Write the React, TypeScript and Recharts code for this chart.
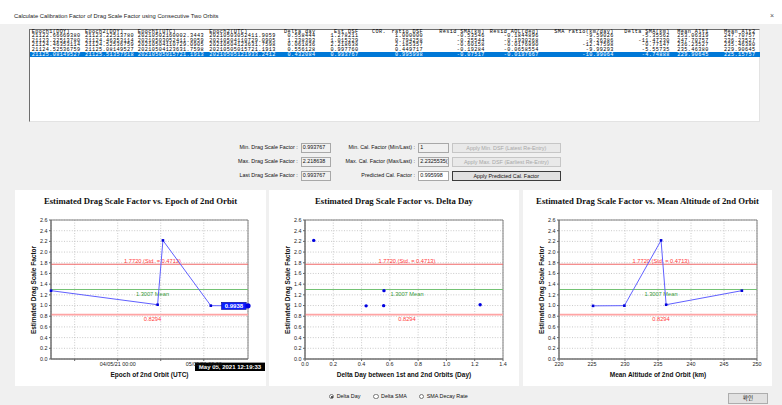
import React from 'react';
import {
  LineChart,
  Line,
  ScatterChart,
  Scatter,
  XAxis,
  YAxis,
  CartesianGrid,
  ReferenceLine,
  ReferenceArea,
} from 'recharts';

// ---------------- data ----------------
const epoch1Doy = [21122.6666938, 21123.2251378, 21124.46353114, 21124.52536759, 21125.08149527];
const epoch2Doy = [21123.2251378, 21124.46353114, 21124.52536759, 21125.08149527, 21125.51357918];
const epoch1Utc = ['20210502160002.3443', '20210503052411.9059', '20210504110729.0905', '20210504123631.7598', '20210505015721.1913'];
const epoch2Utc = ['20210503052411.9059', '20210504110729.0905', '20210504123631.7598', '20210505015721.1913', '20210505121933.2412'];
const deltaDay = [0.558444, 1.238393, 0.061836, 0.556128, 0.432084];
const estDsf = [1.278211, 1.015229, 2.218638, 0.99776, 0.993767];
const ratioDsf = [1.0, 0.794258, 2.185357, 0.449717, 0.995998];
const residSma = [-0.53546, -0.25544, -0.60158, -0.19284, -0.07517];
const residAol = [-0.1844896, -0.1930268, -0.017689, -0.0658554, -0.0197667];
const smaRatio = [-9.59026, -9.26386, -12.47598, -9.99293, -10.99064];
const deltaSma = [-5.35562, -11.4723, -0.77147, -5.55735, -4.74888];
const meanAlt1 = [253.06319, 247.70757, 236.23527, 235.4638, 229.90645];
const meanAlt2 = [247.70757, 236.23527, 235.4638, 229.90645, 225.15757];

const yTicks = [0, 0.2, 0.4, 0.6, 0.8, 1.0, 1.2, 1.4, 1.6, 1.8, 2.0, 2.2, 2.4, 2.6];
const epochTicks = [21123.5, 21124, 21124.5, 21125];
const deltaTicks = [0, 0.2, 0.4, 0.6, 0.8, 1.0, 1.2, 1.4];
const altTicks = [220, 225, 230, 235, 240, 245, 250];

const minCalFactor = '1';
const maxCalFactor = '2.2325535(';
const predictedCalFactor = '0.995998';

// ---------------- derived ----------------
const n = estDsf.length;
const mean = estDsf.reduce((a, b) => a + b, 0) / n;
const std = Math.sqrt(estDsf.reduce((a, b) => a + (b - mean) * (b - mean), 0) / n);
const upper = mean + std;
const lower = mean - std;

const epochData = epoch2Doy.map((x, i) => ({ x, y: estDsf[i] }));
const deltaData = deltaDay.map((x, i) => ({ x, y: estDsf[i] }));
const altData = meanAlt2.map((x, i) => ({ x, y: estDsf[i] }));

const MONTHS = ['Jan', 'Feb', 'Mar', 'Apr', 'May', 'Jun', 'Jul', 'Aug', 'Sep', 'Oct', 'Nov', 'Dec'];
const pad = (v: number) => (v < 10 ? '0' + v : '' + v);
function doyToDate(v: number) {
  const yr = 2000 + Math.floor(v / 1000);
  const doy = Math.floor(v) % 1000;
  const sec = Math.round((v - Math.floor(v)) * 86400);
  return new Date(Date.UTC(yr, 0, 1) + (doy - 1) * 86400000 + sec * 1000);
}
function fmtTick(v: number) {
  if (Math.abs(v - Math.round(v)) > 1e-9) return '';
  const d = doyToDate(v);
  return `${pad(d.getUTCDate())}/${pad(d.getUTCMonth() + 1)}/${pad(d.getUTCFullYear() % 100)} ${pad(d.getUTCHours())}:${pad(d.getUTCMinutes())}`;
}
function fmtCursor(v: number) {
  const d = doyToDate(v);
  return `${MONTHS[d.getUTCMonth()]} ${pad(d.getUTCDate())}, ${d.getUTCFullYear()} ${pad(d.getUTCHours())}:${pad(d.getUTCMinutes())}:${pad(d.getUTCSeconds())}`;
}

// ---------------- styles ----------------
const SANS = "'Liberation Sans', Arial, sans-serif";
const MONO = "'Liberation Mono', 'DejaVu Sans Mono', monospace";
const SERIF = "'Liberation Serif', 'Times New Roman', serif";
const GRAY = '#f0f0f0';

const tickStyle = { fontSize: 5.4, fill: '#222', fontFamily: SANS };
const axisLine = { stroke: '#666' };
const tickLine = { stroke: '#666' };

const PANEL_TOP = 190;
const PANEL_H = 196;
const PLOT_TOP = 30;
const XAXIS_H = 27;
const YAXIS_W = 36;

function refLabel(text: string, color: string, above: boolean) {
  return (props: any) => {
    const vb = props.viewBox || {};
    const cx = (vb.x || 0) + (vb.width || 0) / 2 + 3;
    const y = above ? (vb.y || 0) - 1.3 : (vb.y || 0) + 6.6;
    return (
      <text x={cx} y={y} textAnchor="middle" fill={color} fontSize={5.7} fontFamily={SANS}>
        {text}
      </text>
    );
  };
}

function refLines() {
  return [
    <ReferenceLine key="u" y={upper} stroke="#f06868" strokeWidth={1.1} label={refLabel(`${upper.toFixed(4)} (Std. = ${std.toFixed(4)})`, '#ff3a3a', true)} />,
    <ReferenceLine key="m" y={mean} stroke="#74c274" strokeWidth={1.1} label={refLabel(`${mean.toFixed(4)} Mean`, '#3a9a3a', false)} />,
    <ReferenceLine key="l" y={lower} stroke="#ffa4a4" strokeWidth={1.8} label={refLabel(`${lower.toFixed(4)}`, '#ff3a3a', false)} />,
  ];
}

function squareDot(props: any) {
  const { cx, cy, index } = props;
  if (cx == null || cy == null) return <g key={'d' + index} />;
  return <rect key={'d' + index} x={cx - 1.3} y={cy - 1.3} width={2.6} height={2.6} fill="#0000d8" />;
}

function epochDot(props: any) {
  const { cx, cy, index, value, payload } = props;
  if (cx == null || cy == null) return <g key={'e' + index} />;
  if (index === epochData.length - 1) {
    const w = 24.6;
    const h = 7;
    const yv = payload && typeof payload.y === 'number' ? payload.y : value;
    return (
      <g key={'e' + index}>
        <rect x={cx - 1.8 - w} y={cy - h / 2} width={w} height={h} fill="#0a1eff" stroke="#00008a" strokeWidth={0.6} />
        <text x={cx - 1.8 - w / 2} y={cy + 2.1} textAnchor="middle" fill="#fff" fontSize={6} fontWeight="bold" fontFamily={SANS}>
          {Number(yv).toFixed(4)}
        </text>
        <circle cx={cx} cy={cy} r={2.6} fill="#0000e0" />
      </g>
    );
  }
  return <rect key={'e' + index} x={cx - 1.3} y={cy - 1.3} width={2.6} height={2.6} fill="#0000d8" />;
}

function cursorLabel(chartWidth: number) {
  return (props: any) => {
    const vb = props.viewBox || {};
    const w = 70;
    const h = 8.4;
    const cx = vb.x || 0;
    const left = Math.min(cx - w / 2, chartWidth - w - 1);
    const top = (vb.y || 0) + (vb.height || 0) + 3.6;
    return (
      <g>
        <rect x={left} y={top} width={w} height={h} fill="#000" />
        <text x={left + w / 2} y={top + h / 2 + 2.1} textAnchor="middle" fill="#fff" fontSize={6} fontWeight="bold" fontFamily={SANS}>
          {fmtCursor(epoch2Doy[epoch2Doy.length - 1])}
        </text>
      </g>
    );
  };
}

function PanelText({ width, right, title, xTitle }: { width: number; right: number; title: string; xTitle: string }) {
  const plotCenter = YAXIS_W + (width - YAXIS_W - right) / 2;
  return (
    <>
      <div
        style={{
          position: 'absolute', left: 0, width, top: 11, transform: 'translateY(-50%)', textAlign: 'center',
          fontFamily: SERIF, fontWeight: 'bold', fontSize: 8.7, color: '#111', whiteSpace: 'nowrap', lineHeight: 1,
        }}
      >
        {title}
      </div>
      <div
        style={{
          position: 'absolute', left: plotCenter, top: 185, transform: 'translate(-50%,-50%)',
          fontFamily: SANS, fontWeight: 'bold', fontSize: 6.5, color: '#111', whiteSpace: 'nowrap', lineHeight: 1,
        }}
      >
        {xTitle}
      </div>
      <div
        style={{
          position: 'absolute', left: 19, top: PLOT_TOP + (PANEL_H - XAXIS_H - PLOT_TOP) / 2,
          transform: 'translate(-50%,-50%) rotate(-90deg)',
          fontFamily: SANS, fontWeight: 'bold', fontSize: 6.5, color: '#111', whiteSpace: 'nowrap', lineHeight: 1,
        }}
      >
        Estimated Drag Scale Factor
      </div>
    </>
  );
}

// ---------------- table ----------------
type Col = { h: string; x: number; a: 'l' | 'r'; v: (i: number) => string };
const tableCols: Col[] = [
  { h: 'Epoch1(DOY)', x: 31.7, a: 'l', v: (i) => epoch1Doy[i].toFixed(8) },
  { h: 'Epoch2(DOY)', x: 85, a: 'l', v: (i) => epoch2Doy[i].toFixed(8) },
  { h: 'Epoch1(UTC)', x: 137.7, a: 'l', v: (i) => epoch1Utc[i] },
  { h: 'Epoch2(UTC)', x: 209.3, a: 'l', v: (i) => epoch2Utc[i] },
  { h: 'Delta day', x: 315, a: 'r', v: (i) => deltaDay[i].toFixed(6) },
  { h: 'Est.DSF', x: 358, a: 'r', v: (i) => estDsf[i].toFixed(6) },
  { h: 'COR.', x: 372, a: 'l', v: () => '' },
  { h: 'ratio DSF', x: 422.5, a: 'r', v: (i) => ratioDsf[i].toFixed(6) },
  { h: 'Resid SMA(km)', x: 484.3, a: 'r', v: (i) => residSma[i].toFixed(5) },
  { h: 'Resid AOL(deg)', x: 538.3, a: 'r', v: (i) => residAol[i].toFixed(7) },
  { h: 'SMA ratio(km/day)', x: 613.3, a: 'r', v: (i) => smaRatio[i].toFixed(5) },
  { h: 'Delta SMA(km)', x: 669.3, a: 'r', v: (i) => deltaSma[i].toFixed(5) },
  { h: 'Mean Alt1', x: 708.3, a: 'r', v: (i) => meanAlt1[i].toFixed(5) },
  { h: 'Mean Alt2', x: 755, a: 'r', v: (i) => meanAlt2[i].toFixed(5) },
];
const ROW_TOP = 29.8;
const ROW_H = 4.55;
const W = 782;

function cellStyle(c: Col, top: number, color: string): React.CSSProperties {
  const base: React.CSSProperties = {
    position: 'absolute', top, height: ROW_H, lineHeight: ROW_H + 'px', fontFamily: MONO, fontSize: 5.2,
    letterSpacing: 0.38, whiteSpace: 'nowrap', color,
  };
  if (c.a === 'l') base.left = c.x;
  else base.right = W - c.x - 0.38;
  return base;
}

function Table() {
  const cells: React.ReactNode[] = [];
  tableCols.forEach((c, ci) => {
    cells.push(<span key={'h' + ci} style={cellStyle(c, ROW_TOP, '#000')}>{c.h}</span>);
  });
  const last = estDsf.length - 1;
  for (let r = 0; r < estDsf.length; r++) {
    const top = ROW_TOP + (r + 1) * ROW_H;
    tableCols.forEach((c, ci) => {
      cells.push(
        <span key={r + '_' + ci} style={cellStyle(c, top, r === last ? '#fff' : '#000')}>
          {c.v(r)}
        </span>,
      );
    });
  }
  return (
    <>
      <div style={{ position: 'absolute', left: 29, top: 29, width: 731, height: 93, background: '#fff', borderTop: '1px solid #6d6d6d', borderLeft: '1px solid #6d6d6d', borderRight: '1px solid #e3e3e3', borderBottom: '1px solid #e3e3e3', boxSizing: 'border-box' }} />
      <div style={{ position: 'absolute', left: 30, top: ROW_TOP + ROW_H * (last + 1) - 0.1, width: 730, height: ROW_H + 0.3, background: '#0078d7' }} />
      {cells}
    </>
  );
}

// ---------------- form ----------------
const LBL: React.CSSProperties = { position: 'absolute', fontFamily: SANS, fontSize: 5.4, color: '#111', whiteSpace: 'nowrap', lineHeight: '9.5px', height: 9.5 };

function Field({ labelRight, boxLeft, top, label, value, white }: { labelRight: number; boxLeft: number; top: number; label: string; value: string; white?: boolean }) {
  return (
    <>
      <div style={{ ...LBL, right: W - labelRight, top }}>{label}</div>
      <div
        style={{
          position: 'absolute', left: boxLeft, top, width: 30.5, height: 9.5, boxSizing: 'border-box',
          background: white ? '#fff' : GRAY, border: '1px solid #a8a8a8', fontFamily: SANS, fontSize: 5.4,
          lineHeight: '7.5px', paddingLeft: 1.2, overflow: 'hidden', whiteSpace: 'nowrap', color: '#111',
        }}
      >
        {value}
      </div>
    </>
  );
}

function Button({ top, text, disabled, def }: { top: number; text: string; disabled?: boolean; def?: boolean }) {
  return (
    <div
      style={{
        position: 'absolute', left: 451.7, top, width: 109.3, height: 10, boxSizing: 'border-box',
        background: disabled ? '#e9e9e9' : '#e1e1e1', border: def ? '1px solid #3c3c3c' : '1px solid #c6c6c6',
        fontFamily: SANS, fontSize: 5.4, lineHeight: '8px', textAlign: 'center', color: disabled ? '#a8a8a8' : '#111',
        whiteSpace: 'nowrap',
      }}
    >
      {text}
    </div>
  );
}

function Radio({ x, label, checked }: { x: number; label: string; checked?: boolean }) {
  return (
    <>
      <div style={{ position: 'absolute', left: x - 2.6, top: 396.7 - 2.6, width: 5.2, height: 5.2, borderRadius: '50%', border: '0.7px solid #777', background: '#fff', boxSizing: 'border-box' }}>
        {checked && <div style={{ position: 'absolute', left: 1.1, top: 1.1, width: 1.8, height: 1.8, borderRadius: '50%', background: '#222' }} />}
      </div>
      <div style={{ ...LBL, left: x + 5, top: 396.7 - 4.75 }}>{label}</div>
    </>
  );
}

// ---------------- charts ----------------
function EpochChart() {
  const width = 251;
  const right = 18;
  return (
    <div style={{ position: 'absolute', left: 15, top: PANEL_TOP, width, height: PANEL_H, background: '#fff' }}>
      <PanelText width={width} right={right} title="Estimated Drag Scale Factor vs. Epoch of 2nd Orbit" xTitle="Epoch of 2nd Orbit (UTC)" />
      <div style={{ position: 'absolute', left: 0, top: 0 }}>
        <LineChart width={width} height={PANEL_H} data={epochData} margin={{ top: PLOT_TOP, right, bottom: 0, left: 0 }}>
          <CartesianGrid stroke="#bdbdbd" strokeDasharray="1 1.6" strokeWidth={0.8} />
          <ReferenceArea x1={epoch2Doy[0]} x2={epoch2Doy[epoch2Doy.length - 1]} y1={0} y2={2.6} fill="none" stroke="#808080" strokeWidth={1} />
          <XAxis type="number" dataKey="x" domain={['dataMin', 'dataMax']} ticks={epochTicks} interval={0} tickFormatter={fmtTick}
            height={XAXIS_H} tick={tickStyle} tickSize={2} tickMargin={1.5} axisLine={axisLine} tickLine={tickLine} />
          <YAxis type="number" domain={[0, 2.6]} ticks={yTicks} interval={0} tickFormatter={(v: number) => v.toFixed(1)}
            width={YAXIS_W} tick={tickStyle} tickSize={2} tickMargin={1.5} axisLine={axisLine} tickLine={tickLine} />
          {refLines()}
          <Line type="linear" dataKey="y" stroke="#6060ff" strokeWidth={1} dot={epochDot} activeDot={false} isAnimationActive={false} />
          <ReferenceLine x={epoch2Doy[epoch2Doy.length - 1]} stroke="none" label={cursorLabel(width)} />
        </LineChart>
      </div>
    </div>
  );
}

function DeltaChart() {
  const width = 250;
  const right = 16;
  return (
    <div style={{ position: 'absolute', left: 269, top: PANEL_TOP, width, height: PANEL_H, background: '#fff' }}>
      <PanelText width={width} right={right} title="Estimated Drag Scale Factor vs. Delta Day" xTitle="Delta Day between 1st and 2nd Orbits (Day)" />
      <div style={{ position: 'absolute', left: 0, top: 0 }}>
        <ScatterChart width={width} height={PANEL_H} margin={{ top: PLOT_TOP, right, bottom: 0, left: 0 }}>
          <CartesianGrid stroke="#bdbdbd" strokeDasharray="1 1.6" strokeWidth={0.8} />
          <ReferenceArea x1={0} x2={1.4} y1={0} y2={2.6} fill="none" stroke="#808080" strokeWidth={1} />
          <XAxis type="number" dataKey="x" domain={[0, 1.4]} ticks={deltaTicks} interval={0} tickFormatter={(v: number) => v.toFixed(1)}
            height={XAXIS_H} tick={tickStyle} tickSize={2} tickMargin={1.5} axisLine={axisLine} tickLine={tickLine} />
          <YAxis type="number" dataKey="y" domain={[0, 2.6]} ticks={yTicks} interval={0} tickFormatter={(v: number) => v.toFixed(1)}
            width={YAXIS_W} tick={tickStyle} tickSize={2} tickMargin={1.5} axisLine={axisLine} tickLine={tickLine} />
          {refLines()}
          <Scatter data={deltaData} fill="#0000e0" isAnimationActive={false}
            shape={(p: any) => <circle cx={p.cx} cy={p.cy} r={1.7} fill="#0000e0" />} />
        </ScatterChart>
      </div>
    </div>
  );
}

function AltChart() {
  const width = 249;
  const right = 15;
  return (
    <div style={{ position: 'absolute', left: 523, top: PANEL_TOP, width, height: PANEL_H, background: '#fff' }}>
      <PanelText width={width} right={right} title="Estimated Drag Scale Factor vs. Mean Altitude of 2nd Orbit" xTitle="Mean Altitude of 2nd Orbit (km)" />
      <div style={{ position: 'absolute', left: 0, top: 0 }}>
        <LineChart width={width} height={PANEL_H} data={altData} margin={{ top: PLOT_TOP, right, bottom: 0, left: 0 }}>
          <CartesianGrid stroke="#bdbdbd" strokeDasharray="1 1.6" strokeWidth={0.8} />
          <ReferenceArea x1={220} x2={250} y1={0} y2={2.6} fill="none" stroke="#808080" strokeWidth={1} />
          <XAxis type="number" dataKey="x" domain={[220, 250]} ticks={altTicks} interval={0}
            height={XAXIS_H} tick={tickStyle} tickSize={2} tickMargin={1.5} axisLine={axisLine} tickLine={tickLine} />
          <YAxis type="number" domain={[0, 2.6]} ticks={yTicks} interval={0} tickFormatter={(v: number) => v.toFixed(1)}
            width={YAXIS_W} tick={tickStyle} tickSize={2} tickMargin={1.5} axisLine={axisLine} tickLine={tickLine} />
          {refLines()}
          <Line type="linear" dataKey="y" stroke="#6060ff" strokeWidth={1} dot={squareDot} activeDot={false} isAnimationActive={false} />
        </LineChart>
      </div>
    </div>
  );
}

export default function App() {
  const last = estDsf.length - 1;
  return (
    <div style={{ position: 'absolute', left: 0, top: 0, width: 782, height: 405, background: GRAY, overflow: 'hidden', fontFamily: SANS }}>
      <div style={{ position: 'absolute', left: 0, top: 0, width: 782, height: 23.5, background: '#fff' }} />
      <div style={{ position: 'absolute', left: 14, top: 15.5, transform: 'translateY(-50%)', fontFamily: SANS, fontSize: 5.8, color: '#222', whiteSpace: 'nowrap' }}>
        Calculate Calibration Factor of Drag Scale Factor using Consecutive Two Orbits
      </div>
      <div style={{ position: 'absolute', left: 770, top: 15.3, transform: 'translateY(-50%)', fontFamily: SANS, fontSize: 7, color: '#555' }}>×</div>

      <Table />

      <Field labelRight={297.7} boxLeft={300.5} top={143.3} label="Min. Drag Scale Factor :" value={Math.min(...estDsf).toFixed(6)} />
      <Field labelRight={297.7} boxLeft={300.5} top={157.3} label="Max. Drag Scale Factor :" value={Math.max(...estDsf).toFixed(6)} />
      <Field labelRight={297.7} boxLeft={300.5} top={171.3} label="Last Drag Scale Factor :" value={estDsf[last].toFixed(6)} />
      <Field labelRight={415} boxLeft={418} top={143.3} label="Min. Cal. Factor (Min/Last) :" value={minCalFactor} />
      <Field labelRight={415} boxLeft={418} top={157.3} label="Max. Cal. Factor (Max/Last) :" value={maxCalFactor} />
      <Field labelRight={415} boxLeft={418} top={171.3} label="Predicted Cal. Factor :" value={predictedCalFactor} white />
      <Button top={142.8} text="Apply Min. DSF (Latest Re-Entry)" disabled />
      <Button top={157} text="Apply Max. DSF (Earliest Re-Entry)" disabled />
      <Button top={171.2} text="Apply Predicted Cal. Factor" def />

      <EpochChart />
      <DeltaChart />
      <AltChart />

      <Radio x={331.7} label="Delta Day" checked />
      <Radio x={376} label="Delta SMA" />
      <Radio x={421.7} label="SMA Decay Rate" />
      <div
        style={{
          position: 'absolute', left: 728, top: 393, width: 40, height: 10.5, boxSizing: 'border-box', background: '#e1e1e1',
          border: '1px solid #adadad', textAlign: 'center', fontFamily: "'Noto Sans CJK KR', sans-serif", fontSize: 5.6, lineHeight: '8.5px', color: '#111',
        }}
      >
        확인
      </div>
    </div>
  );
}
